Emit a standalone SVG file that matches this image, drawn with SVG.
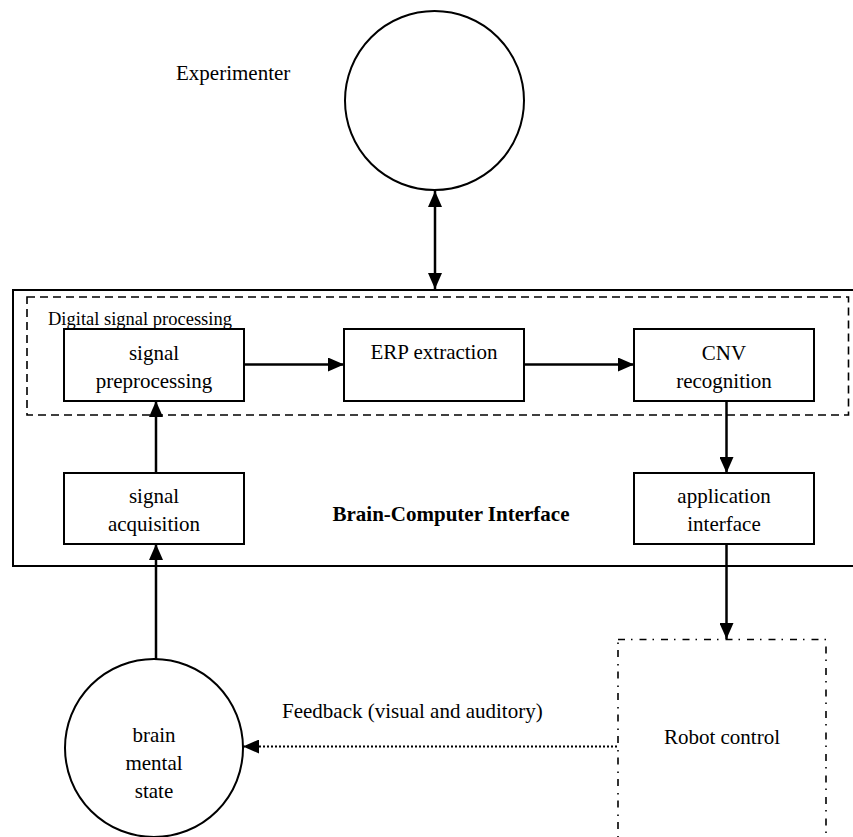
<svg xmlns="http://www.w3.org/2000/svg" width="853" height="837" viewBox="0 0 853 837">
<defs>
<marker id="arr" markerUnits="userSpaceOnUse" markerWidth="16" markerHeight="14" refX="16" refY="7" orient="auto-start-reverse">
<path d="M0,0 L16,7 L0,14 z" fill="#000"/>
</marker>
</defs>
<style>
text{font-family:"Liberation Serif","Times New Roman",serif;font-size:21px;fill:#000}
.c{text-anchor:middle}
.box{fill:#fff;stroke:#000;stroke-width:2}
.edge{stroke:#000;stroke-width:2.5;fill:none;marker-end:url(#arr)}
</style>
<rect width="853" height="837" fill="#fff"/>
<g id="bci">
<rect x="13" y="290" width="850" height="276" fill="none" stroke="#000" stroke-width="2"/>
<text x="451" y="521" class="c" style="font-weight:bold;font-size:21px">Brain-Computer Interface</text>
</g>
<g id="dsp">
<rect x="27" y="297" width="821.5" height="118" fill="none" stroke="#000" stroke-width="1.6" stroke-dasharray="8 5"/>
<text x="48" y="325" style="font-size:18.5px">Digital signal processing</text>
</g>
<g id="experimenter">
<circle cx="434.5" cy="100.5" r="89.5" fill="#fff" stroke="#000" stroke-width="2"/>
<text x="176" y="80">Experimenter</text>
</g>
<g id="preprocessing">
<rect class="box" x="64" y="329" width="180" height="72"/>
<text x="154" y="360" class="c">signal</text>
<text x="154" y="388" class="c">preprocessing</text>
</g>
<g id="erp">
<rect class="box" x="344" y="329" width="180" height="72"/>
<text x="434" y="359" class="c">ERP extraction</text>
</g>
<g id="cnv">
<rect class="box" x="634" y="329" width="180" height="72"/>
<text x="724" y="360" class="c">CNV</text>
<text x="724" y="388" class="c">recognition</text>
</g>
<g id="acquisition">
<rect class="box" x="64" y="473" width="180" height="71"/>
<text x="154" y="503" class="c">signal</text>
<text x="154" y="531" class="c">acquisition</text>
</g>
<g id="application">
<rect class="box" x="634" y="473" width="180" height="71"/>
<text x="724" y="503" class="c">application</text>
<text x="724" y="531" class="c">interface</text>
</g>
<g id="brain">
<circle cx="154" cy="748" r="89" fill="#fff" stroke="#000" stroke-width="2"/>
<text x="154" y="742" class="c">brain</text>
<text x="154" y="770" class="c">mental</text>
<text x="154" y="798" class="c">state</text>
</g>
<g id="robot">
<rect x="618" y="639.5" width="208" height="220" fill="none" stroke="#000" stroke-width="1.6" stroke-dasharray="7 6 1.5 7"/>
<text x="722" y="744" class="c">Robot control</text>
</g>
<g id="connectors">
<line class="edge" x1="435" y1="191" x2="435" y2="289" style="marker-start:url(#arr)"/>
<line class="edge" x1="244" y1="364.5" x2="344" y2="364.5"/>
<line class="edge" x1="524" y1="364.5" x2="634" y2="364.5"/>
<line class="edge" x1="726.5" y1="401" x2="726.5" y2="473"/>
<line class="edge" x1="156" y1="473" x2="156" y2="401"/>
<line class="edge" x1="156" y1="659" x2="156" y2="544"/>
<line class="edge" x1="726.5" y1="544" x2="726.5" y2="639"/>
<line x1="617" y1="746.5" x2="243" y2="746.5" stroke="#000" stroke-width="2" stroke-dasharray="2 2" marker-end="url(#arr)"/>
<text x="282" y="718">Feedback (visual and auditory)</text>
</g>
</svg>
